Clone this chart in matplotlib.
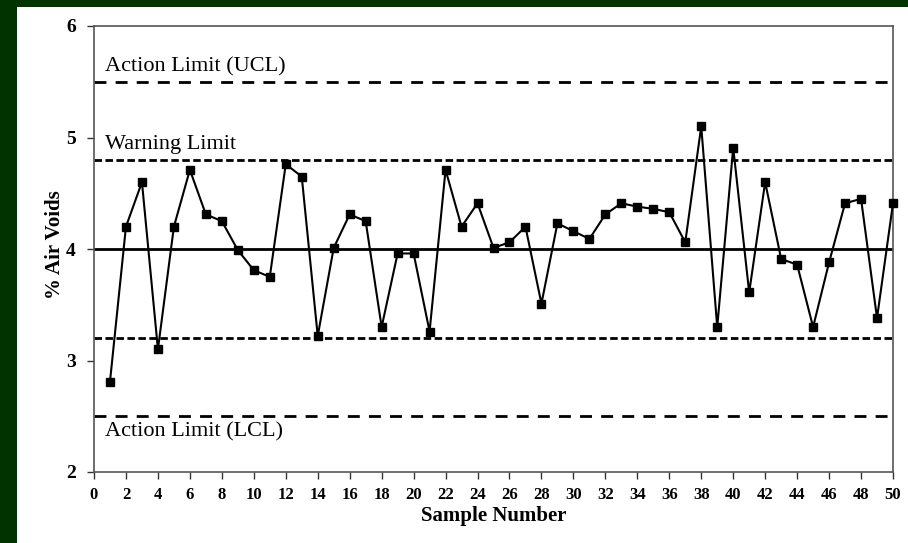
import numpy as np
import matplotlib.pyplot as plt
from matplotlib.patches import Rectangle

sample = np.arange(1, 51)
air_voids = [2.81, 4.20, 4.60, 3.10, 4.20, 4.71, 4.31, 4.25, 3.99, 3.81,
             3.75, 4.76, 4.65, 3.22, 4.01, 4.31, 4.25, 3.30, 3.96, 3.96,
             3.26, 4.71, 4.20, 4.41, 4.01, 4.06, 4.20, 3.51, 4.23, 4.16,
             4.09, 4.31, 4.41, 4.38, 4.36, 4.33, 4.06, 5.10, 3.30, 4.91,
             3.61, 4.60, 3.91, 3.86, 3.30, 3.88, 4.41, 4.45, 3.38, 4.41]

center = 4.0
warn_upper, warn_lower = 4.8, 3.2
ucl, lcl = 5.5, 2.5

plt.rcParams['font.family'] = ['Liberation Serif', 'DejaVu Serif']

fig = plt.figure(figsize=(9.08, 5.43), dpi=100)
fig.patch.set_facecolor('#013300')
fig.patches.append(Rectangle((17 / 908, 0), 1, (543 - 7) / 543,
                             transform=fig.transFigure, facecolor='white',
                             edgecolor='none', zorder=-10))

ax = fig.add_axes([94 / 908, (543 - 472) / 543, 799 / 908, 446 / 543])

ax.axhline(center, color='black', lw=2.0, zorder=2)
for y in (warn_upper, warn_lower):
    ax.axhline(y, color='black', lw=2.0, dashes=(2.7, 1.25), zorder=2)
for y in (ucl, lcl):
    ax.axhline(y, color='black', lw=2.0, dashes=(4.3, 3.3), zorder=2)

ax.plot(sample, air_voids, color='black', lw=1.5, marker='s', markersize=6,
        zorder=3, clip_on=False)

ax.text(0.7, ucl + 0.05, 'Action Limit (UCL)', fontsize=16, va='bottom')
ax.text(0.7, warn_upper + 0.055, 'Warning Limit', fontsize=16, va='bottom')
ax.text(0.7, lcl - 0.05, 'Action Limit (LCL)', fontsize=16, va='top')

ax.set_xlim(0, 50)
ax.set_ylim(2, 6)
ax.set_xticks(np.arange(0, 51, 2))
ax.set_yticks([2, 3, 4, 5, 6])
ax.tick_params(axis='both', direction='out', length=5, width=1,
               colors='#333333', labelcolor='black')
ax.tick_params(axis='x', labelsize=12, pad=6)
ax.tick_params(axis='y', labelsize=14, pad=8)
for lab in ax.get_xticklabels() + ax.get_yticklabels():
    lab.set_fontweight('bold')

for s in ax.spines.values():
    s.set_color('#555555')
    s.set_linewidth(1.2)

ax.set_xlabel('Sample Number', fontsize=15, fontweight='bold', labelpad=2)
ax.set_ylabel('% Air Voids', fontsize=15, fontweight='bold')
ax.yaxis.set_label_coords(-0.036, 0.51)

fig.savefig('out.png', dpi=100, facecolor=fig.get_facecolor())
